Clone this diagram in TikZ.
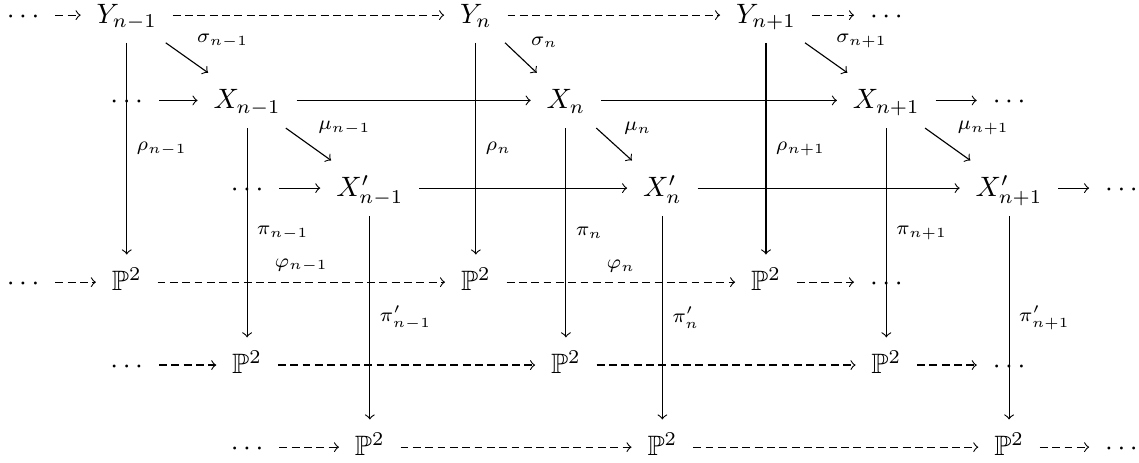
\documentclass[tikz,border=0pt]{standalone}
\usepackage{amssymb}
\begin{document}
\begin{tikzpicture}[
  obj/.style={inner xsep=0.55em, inner ysep=0.45em, text height=1.9ex, text depth=0.5ex},
  lbl/.style={auto, font=\scriptsize},
  ratmap/.style={->, dash pattern=on 2.8pt off 1.6pt}]
\useasboundingbox (0,0) rectangle (14.29,5.80);
% row of the Y
\node[obj] (ydl) at (0.29,5.61) {$\cdots$};
\node[obj] (y1) at (1.59,5.61) {$Y_{n-1}$};
\node[obj] (y2) at (5.97,5.61) {$Y_n$};
\node[obj] (y3) at (9.61,5.61) {$Y_{n+1}$};
\node[obj] (ydr) at (11.12,5.61) {$\cdots$};
% row of the X
\node[obj] (xdl) at (1.59,4.54) {$\cdots$};
\node[obj] (x1) at (3.10,4.54) {$X_{n-1}$};
\node[obj] (x2) at (7.10,4.54) {$X_n$};
\node[obj] (x3) at (11.12,4.54) {$X_{n+1}$};
\node[obj] (xdr) at (12.66,4.54) {$\cdots$};
% row of the X'
\node[obj] (xpdl) at (3.10,3.44) {$\cdots$};
\node[obj] (xp1) at (4.64,3.44) {$X'_{n-1}$};
\node[obj] (xp2) at (8.31,3.44) {$X'_n$};
\node[obj] (xp3) at (12.66,3.44) {$X'_{n+1}$};
\node[obj] (xpdr) at (14.07,3.44) {$\cdots$};
% the three rows of planes
\node[obj] (pdl) at (0.29,2.26) {$\cdots$};
\node[obj] (p1) at (1.59,2.26) {$\mathbb{P}^2$};
\node[obj] (p2) at (5.97,2.26) {$\mathbb{P}^2$};
\node[obj] (p3) at (9.61,2.26) {$\mathbb{P}^2$};
\node[obj] (pdr) at (11.12,2.26) {$\cdots$};
\node[obj] (qdl) at (1.59,1.22) {$\cdots$};
\node[obj] (q1) at (3.10,1.22) {$\mathbb{P}^2$};
\node[obj] (q2) at (7.10,1.22) {$\mathbb{P}^2$};
\node[obj] (q3) at (11.12,1.22) {$\mathbb{P}^2$};
\node[obj] (qdr) at (12.66,1.22) {$\cdots$};
\node[obj] (rdl) at (3.10,0.19) {$\cdots$};
\node[obj] (r1) at (4.64,0.19) {$\mathbb{P}^2$};
\node[obj] (r2) at (8.31,0.19) {$\mathbb{P}^2$};
\node[obj] (r3) at (12.66,0.19) {$\mathbb{P}^2$};
\node[obj] (rdr) at (14.07,0.19) {$\cdots$};
% horizontal maps
\draw[ratmap] (ydl) -- (y1);
\draw[ratmap] (y1) -- (y2);
\draw[ratmap] (y2) -- (y3);
\draw[ratmap] (y3) -- (ydr);
\draw[->] (xdl) -- (x1);
\draw[->] (x1) -- (x2);
\draw[->] (x2) -- (x3);
\draw[->] (x3) -- (xdr);
\draw[->] (xpdl) -- (xp1);
\draw[->] (xp1) -- (xp2);
\draw[->] (xp2) -- (xp3);
\draw[->] (xp3) -- (xpdr);
\draw[ratmap] (pdl) -- (p1);
\draw[ratmap] (p1) -- node[lbl] {$\varphi_{n-1}$} (p2);
\draw[ratmap] (p2) -- node[lbl] {$\varphi_n$} (p3);
\draw[ratmap] (p3) -- (pdr);
\draw[ratmap] (qdl) -- (q1);
\draw[ratmap] (q1) -- (q2);
\draw[ratmap] (q2) -- (q3);
\draw[ratmap] (q3) -- (qdr);
\draw[ratmap] (rdl) -- (r1);
\draw[ratmap] (r1) -- (r2);
\draw[ratmap] (r2) -- (r3);
\draw[ratmap] (r3) -- (rdr);
% diagonal maps
\draw[->] (y1) -- node[lbl] {$\sigma_{n-1}$} (x1);
\draw[->] (y2) -- node[lbl] {$\sigma_n$} (x2);
\draw[->] (y3) -- node[lbl] {$\sigma_{n+1}$} (x3);
\draw[->] (x1) -- node[lbl] {$\mu_{n-1}$} (xp1);
\draw[->] (x2) -- node[lbl] {$\mu_n$} (xp2);
\draw[->] (x3) -- node[lbl] {$\mu_{n+1}$} (xp3);
% vertical maps
\draw[->] (y1) -- node[lbl] {$\rho_{n-1}$} (p1);
\draw[->] (y2) -- node[lbl] {$\rho_n$} (p2);
\draw[->] (y3) -- node[lbl] {$\rho_{n+1}$} (p3);
\draw[->] (x1) -- node[lbl] {$\pi_{n-1}$} (q1);
\draw[->] (x2) -- node[lbl] {$\pi_n$} (q2);
\draw[->] (x3) -- node[lbl] {$\pi_{n+1}$} (q3);
\draw[->] (xp1) -- node[lbl] {$\pi'_{n-1}$} (r1);
\draw[->] (xp2) -- node[lbl] {$\pi'_n$} (r2);
\draw[->] (xp3) -- node[lbl] {$\pi'_{n+1}$} (r3);
\end{tikzpicture}
\end{document}
